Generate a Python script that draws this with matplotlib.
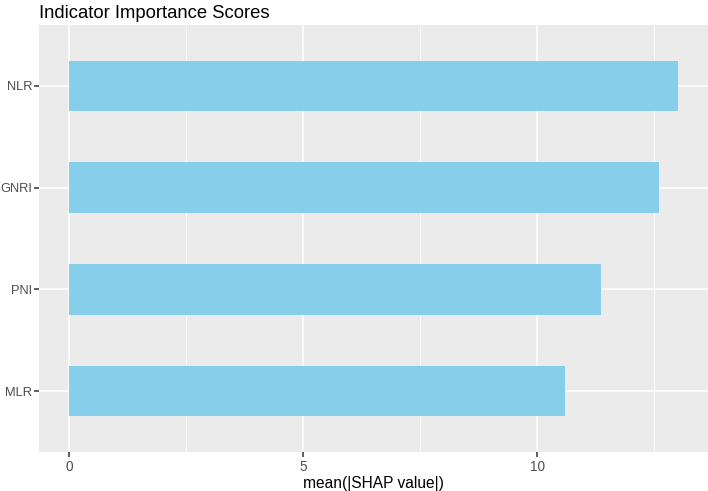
import matplotlib
matplotlib.use("Agg")
import matplotlib.pyplot as plt
from matplotlib.ticker import MultipleLocator

categories = ["MLR", "PNI", "GNRI", "NLR"]
values = [10.59, 11.36, 12.61, 13.0]
x_ticks = [0, 5, 10]
x_tick_labels = ["0", "5", "10"]

plt.rcParams['font.family'] = ['Liberation Sans', 'DejaVu Sans']

fig = plt.figure(figsize=(7.08, 4.91), dpi=100)
ax = fig.add_axes([39/708, 39/491, 669/708, 427/491])
ax.set_facecolor("#EBEBEB")

ypos = list(range(1, len(categories) + 1))
ax.barh(ypos, values, height=0.5, color="#87CEEB", zorder=3)

vmax = max(values)
ax.set_xlim(-0.05 * vmax, vmax * 1.05)
ax.set_ylim(0.4, len(categories) + 0.6)

ax.set_xticks(x_ticks)
ax.set_xticklabels(x_tick_labels)
ax.xaxis.set_minor_locator(MultipleLocator(2.5))
ax.set_yticks(ypos)
ax.set_yticklabels(categories)

ax.grid(which="major", color="white", linewidth=1.1, zorder=1)
ax.grid(which="minor", axis="x", color="white", linewidth=0.55, zorder=1)
ax.set_axisbelow(True)
for s in ax.spines.values():
    s.set_visible(False)

ax.tick_params(which="major", length=3.5, width=1.1, color="#333333",
               labelcolor="#4D4D4D", labelsize=9.8, pad=2)
ax.tick_params(axis="y", which="major", labelsize=9.3, pad=1.5)
ax.tick_params(which="minor", length=0)

ax.set_xlabel("mean(|SHAP value|)", fontsize=11.2, color="black", labelpad=2)
ax.set_title("Indicator Importance Scores", fontsize=13.3, loc="left", x=0, pad=5, color="black")

fig.savefig("out.png", dpi=100)
